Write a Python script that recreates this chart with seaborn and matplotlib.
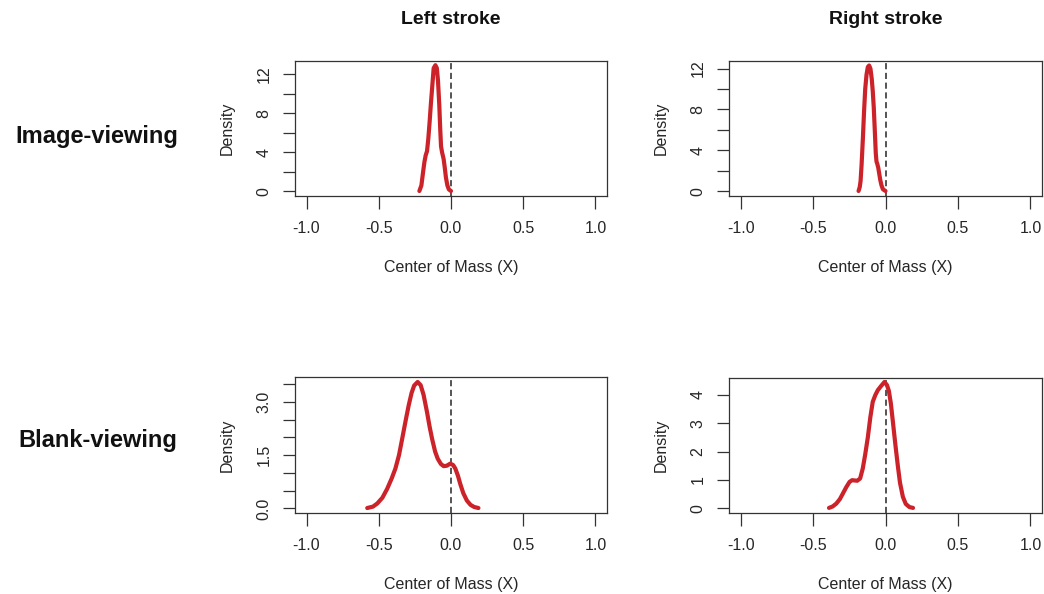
import matplotlib
matplotlib.use("Agg")
import matplotlib.pyplot as plt
import seaborn as sns
import pandas as pd

# ---- data ----
col_titles = ["Left stroke", "Right stroke"]
row_titles = ["Image-viewing", "Blank-viewing"]

x_ticks = [-1.0, -0.5, 0.0, 0.5, 1.0]
x_ticklabels = ["-1.0", "-0.5", "0.0", "0.5", "1.0"]

# Image-viewing, Left stroke
img_left_x = [-0.219, -0.205, -0.193, -0.184, -0.175, -0.166, -0.157, -0.148, -0.139, -0.131,
              -0.12, -0.108, -0.098, -0.09, -0.081, -0.075, -0.069, -0.062, -0.051, -0.043,
              -0.035, -0.025, -0.015, 0.0]
img_left_y = [0.03, 0.6, 2.0, 3.0, 3.7, 4.1, 5.4, 7.1, 9.0, 10.5,
              12.6, 12.9, 12.6, 11.3, 8.8, 6.5, 4.6, 4.0, 3.3, 2.4,
              1.4, 0.6, 0.2, 0.03]

# Image-viewing, Right stroke
img_right_x = [-0.186, -0.178, -0.172, -0.165, -0.156, -0.148, -0.14, -0.131, -0.122, -0.113,
               -0.104, -0.095, -0.088, -0.081, -0.074, -0.067, -0.062, -0.057, -0.05, -0.043,
               -0.036, -0.028, -0.018, 0.0]
img_right_y = [0.03, 0.4, 1.0, 2.6, 5.2, 7.8, 10.0, 11.4, 12.15, 12.3,
               12.0, 11.0, 9.8, 8.2, 6.0, 3.7, 2.9, 2.7, 2.3, 1.7,
               1.1, 0.6, 0.2, 0.03]

# Blank-viewing, Left stroke
blank_left_x = [-0.58, -0.54, -0.51, -0.475, -0.442, -0.41, -0.385, -0.36, -0.338, -0.315,
                -0.293, -0.273, -0.255, -0.231, -0.21, -0.19, -0.166, -0.148, -0.131, -0.11,
                -0.092, -0.07, -0.051, -0.03, -0.005, 0.015, 0.03, 0.048, 0.064, 0.085,
                0.11, 0.135, 0.16, 0.19]
blank_left_y = [0.01, 0.05, 0.14, 0.3, 0.55, 0.85, 1.12, 1.5, 1.96, 2.45,
                2.9, 3.25, 3.46, 3.56, 3.47, 3.2, 2.71, 2.3, 1.96, 1.6,
                1.4, 1.25, 1.19, 1.2, 1.26, 1.22, 1.12, 0.92, 0.69, 0.43,
                0.22, 0.1, 0.04, 0.01]

# Blank-viewing, Right stroke
blank_right_x = [-0.39, -0.365, -0.34, -0.315, -0.294, -0.27, -0.248, -0.23, -0.214, -0.195,
                 -0.175, -0.157, -0.14, -0.122, -0.105, -0.088, -0.07, -0.053, -0.03, -0.007,
                 0.01, 0.023, 0.037, 0.05, 0.068, 0.085, 0.1, 0.12, 0.14, 0.165, 0.19]
blank_right_y = [0.01, 0.06, 0.16, 0.32, 0.52, 0.75, 0.93, 0.99, 0.98, 0.97,
                 1.05, 1.4, 1.9, 2.5, 3.2, 3.76, 4.0, 4.17, 4.32, 4.46,
                 4.35, 4.15, 3.7, 3.1, 2.25, 1.5, 0.9, 0.4, 0.15, 0.04, 0.01]

# y-axis ticks / labels per panel
img_yticks = [0, 2, 4, 6, 8, 10, 12]
img_ylabels = ["0", "", "4", "", "8", "", "12"]
blank_left_yticks = [0, 0.5, 1.0, 1.5, 2.0, 2.5, 3.0, 3.5]
blank_left_ylabels = ["0.0", "", "", "1.5", "", "", "3.0", ""]
blank_right_yticks = [0, 1, 2, 3, 4]
blank_right_ylabels = ["0", "1", "2", "3", "4"]

# ---- style ----
sns.set_theme(style="white")
plt.rcParams["font.family"] = ["Liberation Sans", "DejaVu Sans"]

W, H = 1044, 594
fig = plt.figure(figsize=(W / 100, H / 100), dpi=100)

RED = "#CC2229"
AX_COL = "#333333"
TXT = "#262626"

def px_axes(x0, y0, x1, y1):
    return fig.add_axes([x0 / W, 1 - y1 / H, (x1 - x0) / W, (y1 - y0) / H])

panels = [
    ((295, 61, 607, 196), img_left_x, img_left_y, (-0.48, 13.33), img_yticks, img_ylabels, col_titles[0]),
    ((729, 61, 1042, 196), img_right_x, img_right_y, (-0.46, 12.74), img_yticks, img_ylabels, col_titles[1]),
    ((295, 377, 607, 513), blank_left_x, blank_left_y, (-0.13, 3.70), blank_left_yticks, blank_left_ylabels, None),
    ((729, 378, 1042, 513), blank_right_x, blank_right_y, (-0.17, 4.60), blank_right_yticks, blank_right_ylabels, None),
]

for box, xs, ys, ylim, yt, yl, title in panels:
    ax = px_axes(*box)
    df = pd.DataFrame({"x": xs, "y": ys})
    ax.axvline(0, color="#474747", lw=1.3, ls=(0, (3.4, 2.0)), zorder=1)
    sns.lineplot(data=df, x="x", y="y", ax=ax, color=RED, lw=3.0,
                 solid_capstyle="round", zorder=3)
    ax.set_xlim(-1.08, 1.08)
    ax.set_ylim(*ylim)
    ax.set_xticks(x_ticks)
    ax.set_xticklabels(x_ticklabels)
    ax.set_yticks(yt)
    ax.set_yticklabels(yl)
    for lab in ax.get_yticklabels():
        lab.set_rotation(90)
        lab.set_va("center")
    ax.tick_params(axis="both", direction="out", length=9, width=0.9, color=AX_COL,
                   labelsize=11.5, labelcolor=TXT,
                   bottom=True, left=True, top=False, right=False)
    ax.tick_params(axis="x", pad=9)
    ax.tick_params(axis="y", pad=8)
    for s in ax.spines.values():
        s.set_visible(True)
        s.set_color(AX_COL)
        s.set_linewidth(0.9)
    hpx = box[3] - box[1]
    wpx = box[2] - box[0]
    ax.set_xlabel("Center of Mass (X)", fontsize=11.5, color=TXT, va="center")
    ax.xaxis.set_label_coords(0.5, -71 / hpx)
    ax.set_ylabel("Density", fontsize=11.5, color=TXT, va="center")
    ax.yaxis.set_label_coords(-68 / wpx, 0.5)
    ax.grid(False)
    if title:
        ax.set_title(title, fontsize=14, fontweight="bold", color="#111111",
                     y=1 + 41 / hpx, va="center", pad=0)

fig.text(97 / W, 1 - 137 / H, row_titles[0], fontsize=17, fontweight="bold",
         color="#111111", ha="center", va="center")
fig.text(98 / W, 1 - 441 / H, row_titles[1], fontsize=17, fontweight="bold",
         color="#111111", ha="center", va="center")

fig.savefig("out.png", dpi=100, facecolor="white")
